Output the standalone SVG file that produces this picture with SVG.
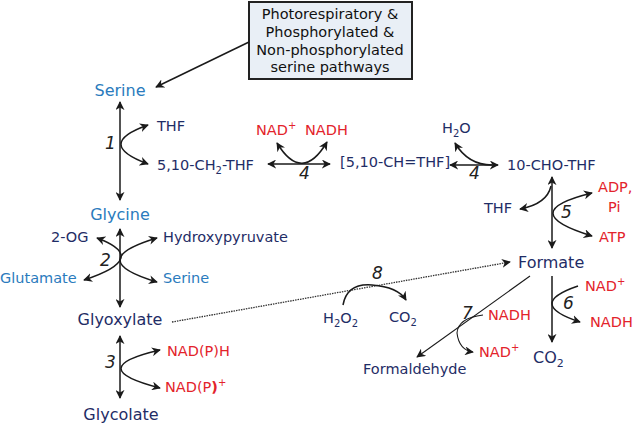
<svg xmlns="http://www.w3.org/2000/svg" width="633" height="427" viewBox="0 0 633 427">
<defs>
<marker id="ah" viewBox="0 0 10 10" refX="9" refY="5" markerWidth="9" markerHeight="9" markerUnits="userSpaceOnUse" orient="auto-start-reverse">
<path d="M0,0 L10,5 L0,10 L3,5 z" fill="#1a1a1a"/>
</marker>
<style>
text{font-family:"DejaVu Sans","Liberation Sans",sans-serif;font-size:14.5px}
.navy{fill:#1f2d66}
.blue{fill:#2a7bbd}
.red{fill:#e3232b}
.big{font-size:16px}
.num{font-size:17px;font-style:italic;fill:#222}
.ln{fill:none;stroke:#1a1a1a;stroke-width:1.5}
.a2{marker-start:url(#ah);marker-end:url(#ah)}
.a1{marker-end:url(#ah)}
.dot{fill:none;stroke:#333;stroke-width:1.3;stroke-dasharray:1.5,1}
.thin{fill:none;stroke:#1a1a1a;stroke-width:1.1}
</style>
</defs>
<g id="box">
<rect x="249" y="2" width="163" height="77" fill="#e9eff6" stroke="#222" stroke-width="2"/>
<text x="330" y="19" text-anchor="middle" fill="#111">Photorespiratory &amp;</text>
<text x="330" y="37" text-anchor="middle" fill="#111">Phosphorylated &amp;</text>
<text x="330" y="55" text-anchor="middle" fill="#111">Non-phosphorylated</text>
<text x="330" y="72" text-anchor="middle" fill="#111">serine pathways</text>
</g>
<g id="serine"><text x="120" y="96" text-anchor="middle" class="blue big">Serine</text></g>
<g id="thf1"><text x="157" y="131" class="navy">THF</text></g>
<g id="ch2thf"><text x="157" y="170" class="navy">5,10-CH<tspan font-size="10" dy="4">2</tspan><tspan dy="-4">-THF</tspan></text></g>
<g id="glycine"><text x="120" y="220" text-anchor="middle" class="blue big">Glycine</text></g>
<g id="og"><text x="51" y="242" class="navy">2-OG</text></g>
<g id="hpyr"><text x="163" y="242" class="navy">Hydroxypyruvate</text></g>
<g id="glutamate"><text x="0" y="283" class="blue">Glutamate</text></g>
<g id="serine2"><text x="163" y="283" class="blue">Serine</text></g>
<g id="glyoxylate"><text x="120" y="325" text-anchor="middle" class="navy big">Glyoxylate</text></g>
<g id="nadph"><text x="167" y="356" class="red">NAD(P)H</text></g>
<g id="nadp"><text x="165" y="392" class="red">NAD(P<tspan font-weight="bold">)</tspan><tspan font-size="10" dy="-6">+</tspan></text></g>
<g id="glycolate"><text x="121" y="420" text-anchor="middle" class="navy big">Glycolate</text></g>
<g id="nad4"><text x="256" y="135" class="red">NAD<tspan font-size="10" dy="-6">+</tspan></text></g>
<g id="nadh4"><text x="305" y="135" class="red">NADH</text></g>
<g id="chthf"><text x="340" y="167" class="navy" font-size="13">[5,10-CH=THF]</text></g>
<g id="h2o"><text x="442" y="133" class="navy">H<tspan font-size="10" dy="4">2</tspan><tspan dy="-4">O</tspan></text></g>
<g id="chothf"><text x="507" y="170" class="navy">10-CHO-THF</text></g>
<g id="thf5"><text x="484" y="213" class="navy">THF</text></g>
<g id="adp"><text x="598" y="192" class="red">ADP,</text><text x="608" y="212" class="red">Pi</text></g>
<g id="atp"><text x="599" y="242" class="red">ATP</text></g>
<g id="formate"><text x="518" y="268" class="navy big">Formate</text></g>
<g id="nad6"><text x="585" y="291" class="red">NAD<tspan font-size="10" dy="-6">+</tspan></text></g>
<g id="nadh6"><text x="590" y="327" class="red">NADH</text></g>
<g id="co2b"><text x="533" y="363" class="navy big">CO<tspan font-size="11" dy="4">2</tspan></text></g>
<g id="nadh7"><text x="488" y="320" class="red">NADH</text></g>
<g id="nad7"><text x="479" y="357" class="red">NAD<tspan font-size="10" dy="-6">+</tspan></text></g>
<g id="formaldehyde"><text x="363" y="374" class="navy">Formaldehyde</text></g>
<g id="h2o2"><text x="323" y="323" class="navy">H<tspan font-size="10" dy="4">2</tspan><tspan dy="-4">O</tspan><tspan font-size="10" dy="4">2</tspan></text></g>
<g id="co2a"><text x="389" y="322" class="navy">CO<tspan font-size="10" dy="4">2</tspan></text></g>
<g id="numbers">
<text x="105" y="149" class="num">1</text>
<text x="100" y="266" class="num">2</text>
<text x="105" y="368" class="num">3</text>
<text x="299" y="179" class="num">4</text>
<text x="469" y="179" class="num">4</text>
<text x="561" y="218" class="num">5</text>
<text x="563" y="309" class="num">6</text>
<text x="462" y="319" class="num">7</text>
<text x="372" y="279" class="num">8</text>
</g>
<g id="connectors">
<line x1="249" y1="42" x2="156" y2="87" class="ln a1"/>
<line x1="120" y1="102" x2="120" y2="200" class="ln a2"/>
<path d="M148,125 Q94,144 148,164" class="ln a2"/>
<line x1="120" y1="229" x2="120" y2="307" class="ln a2"/>
<path d="M97,238 Q151,258 84,280" class="ln a2"/>
<path d="M157,238 Q83,260 157,282" class="ln a2"/>
<line x1="120" y1="336" x2="120" y2="398" class="ln a2"/>
<path d="M160,350 Q82,368 160,388" class="ln a2"/>
<line x1="268" y1="164" x2="330" y2="164" class="ln a2"/>
<path d="M277,143 Q302,184 327,142" class="ln a2"/>
<line x1="450" y1="165" x2="498" y2="165" class="ln a2"/>
<path d="M455,143 Q468,165 492,165" class="ln" marker-start="url(#ah)"/>
<line x1="552" y1="177" x2="552" y2="248" class="ln a2"/>
<path d="M520,209 Q547,204 551,186" class="ln" marker-start="url(#ah)"/>
<path d="M592,193 Q514,212 592,236" class="ln a2"/>
<line x1="172" y1="322" x2="510" y2="262" class="dot a1"/>
<path d="M343,305 Q347,283 372,285 Q398,287 406,300" class="ln a1"/>
<line x1="552" y1="276" x2="552" y2="342" class="ln a1"/>
<path d="M578,286 Q525,304 580,322" class="ln a1"/>
<line x1="530" y1="276" x2="417" y2="357" class="thin a1"/>
<path d="M483,315 Q458,318 457,333 Q459,350 473,352" class="thin a1"/>
</g>
</svg>
